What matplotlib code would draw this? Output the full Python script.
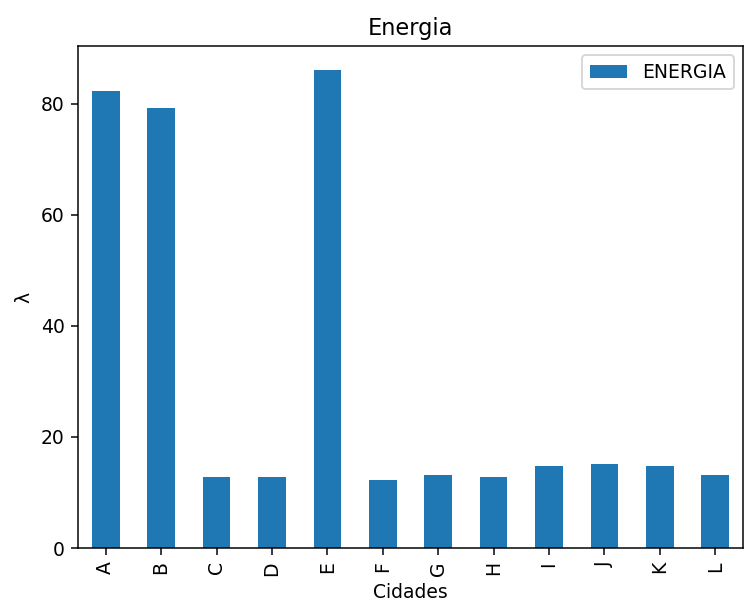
import matplotlib
matplotlib.use("Agg")
import matplotlib.pyplot as plt
import numpy as np

cidades = ["A", "B", "C", "D", "E", "F", "G", "H", "I", "J", "K", "L"]
energia = [82.2, 79.2, 12.75, 12.75, 86.05, 12.3, 13.05, 12.75, 14.7, 15.2, 14.7, 13.05]

dpi = 135
fig = plt.figure(figsize=(745 / dpi, 606 / dpi), dpi=dpi)
ax = fig.add_axes([78 / 745, 58 / 606, (743 - 78) / 745, (548 - 46) / 606])

x = np.arange(len(cidades))
ax.bar(x, energia, width=0.5, color="#1f77b4", label="ENERGIA")
ax.set_xlim(-0.5, len(cidades) - 0.5)
ax.set_xticks(x)
ax.set_xticklabels(cidades, rotation=90)
ax.set_xlabel("Cidades")
ax.set_ylabel("λ")
ax.set_title("Energia")
ax.legend(loc="upper right")

fig.savefig("out.png", dpi=dpi)
